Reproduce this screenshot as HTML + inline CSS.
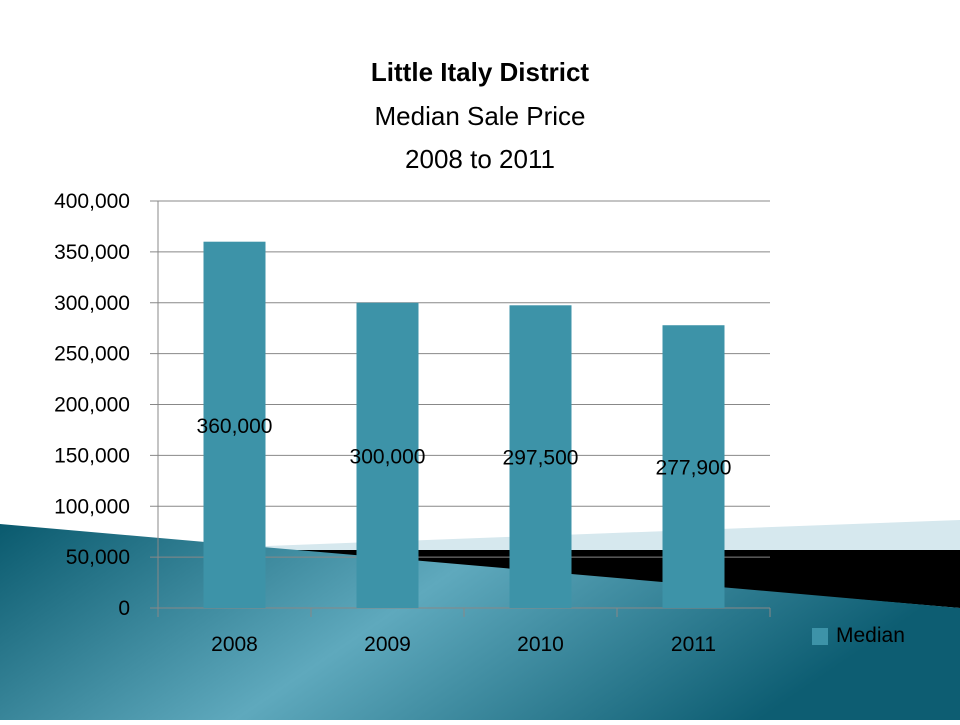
<!DOCTYPE html>
<html><head><meta charset="utf-8"><style>
body{margin:0;width:960px;height:720px;overflow:hidden;background:#fff;font-family:"Liberation Sans",sans-serif}
</style></head><body>
<svg width="960" height="720">
<defs>
<linearGradient id="tg" x1="0" y1="0" x2="1" y2="0.3">
<stop offset="0" stop-color="#0a5a6e"/><stop offset="0.5" stop-color="#5fa9bd"/><stop offset="1" stop-color="#0d5d72"/>
</linearGradient>
</defs>
<polygon points="240,547 960,520 960,550 260,550" fill="#d6e8ee"/>
<polygon points="260,550 960,550 960,608 260,549" fill="#000"/>
<polygon points="0,524 960,608 960,720 0,720" fill="url(#tg)"/>
<g id="chart"></g>
<text x="480" y="81" text-anchor="middle" font-size="26" font-weight="bold">Little Italy District</text>
<text x="480" y="125" text-anchor="middle" font-size="26">Median Sale Price</text>
<text x="480" y="168" text-anchor="middle" font-size="26">2008 to 2011</text>
<rect x="812" y="628" width="16" height="17" fill="#3d93a8"/>
<text x="836" y="642" font-size="21">Median</text>
</svg>
<script>
const categories=["2008","2009","2010","2011"];
const values=[360000,300000,297500,277900];
const labels=["360,000","300,000","297,500","277,900"];
const ticks=[0,50000,100000,150000,200000,250000,300000,350000,400000];
const ns="http://www.w3.org/2000/svg";
const g=document.getElementById("chart");
const x0=158,x1=770,yTop=201,yBot=608,maxV=400000;
const y=v=>yBot-(v/maxV)*(yBot-yTop);
const bw=(x1-x0)/categories.length;
function mk(t,a){const e=document.createElementNS(ns,t);for(const k in a)e.setAttribute(k,a[k]);g.appendChild(e);return e;}
ticks.forEach(t=>{
 const l=mk("line",{x1:x0-8,x2:x1,y1:y(t),y2:y(t),stroke:"#888","stroke-width":1});
 
 
 const tx=mk("text",{x:130,y:y(t)+7,"text-anchor":"end","font-size":21});
 
 
 tx.textContent=t===0?"0":t.toLocaleString("en-US");
});
const ax=mk("line",{x1:x0,x2:x0,y1:yTop,y2:yBot+9,stroke:"#888"});


for(let i=0;i<=categories.length;i++){
 const tk=mk("line",{x1:x0+i*bw,x2:x0+i*bw,y1:yBot,y2:yBot+9,stroke:"#888"});
 
 
}
categories.forEach((c,i)=>{
 const cx=x0+bw*(i+0.5);
 const r=mk("rect",{x:cx-31,y:y(values[i]),width:62,height:yBot-y(values[i]),fill:"#3d93a8"});
 
 
 const lb=mk("text",{x:cx,y:(y(values[i])+yBot)/2+8,"text-anchor":"middle","font-size":21});
 
 
 lb.textContent=labels[i];
 const cl=mk("text",{x:cx,y:651,"text-anchor":"middle","font-size":21});
 
 
 cl.textContent=c;
});
</script>
</body></html>
